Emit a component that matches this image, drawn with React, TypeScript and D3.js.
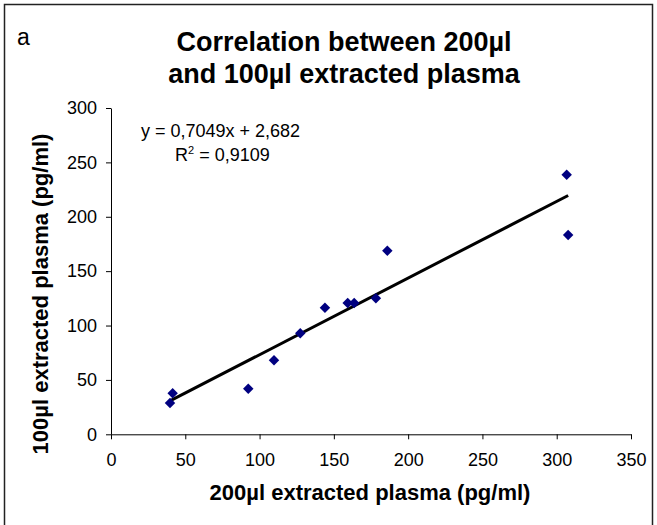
import React, { useEffect, useRef } from "react";
import * as d3 from "d3";

const xValues = [39.7, 41.5, 92.4, 109.7, 127.4, 144, 159.3, 163.7, 178.3, 186, 306.7, 307.7];
const yValues = [28.8, 37.7, 41.9, 68, 92.8, 116.4, 120.7, 120.7, 125, 168.8, 238.6, 183.2];
const xTicks = [0, 50, 100, 150, 200, 250, 300, 350];
const yTicks = [0, 50, 100, 150, 200, 250, 300];
const slope = 0.7049;
const intercept = 2.682;
const titleLines = ["Correlation between 200µl", "and 100µl extracted plasma"];
const xTitle = "200µl extracted plasma (pg/ml)";
const yTitle = "100µl extracted plasma (pg/ml)";

export default function App() {
  const ref = useRef<SVGSVGElement>(null);
  useEffect(() => {
    const svg = d3.select(ref.current);
    svg.selectAll("*").remove();
    const font = "'Liberation Sans', Arial, sans-serif";
    const x = d3.scaleLinear().domain([0, 350]).range([111, 631]);
    const y = d3.scaleLinear().domain([0, 300]).range([434.3, 108]);

    svg.append("path")
      .attr("d", "M4.5,530 V4.5 H652.5 V530")
      .attr("fill", "none")
      .attr("stroke", "#222")
      .attr("stroke-width", 1.5);

    svg.append("text").attr("x", 17).attr("y", 45).attr("font-family", font)
      .attr("font-size", 23).text("a");

    titleLines.forEach((t, i) => {
      svg.append("text").attr("x", 344).attr("y", 51 + i * 32).attr("text-anchor", "middle")
        .attr("font-family", font).attr("font-weight", "bold").attr("font-size", 27).text(t);
    });

    const xAxis = svg.append("g").attr("transform", `translate(0,${y(0)})`)
      .call(d3.axisBottom(x).tickValues(xTicks).tickSize(5).tickPadding(14).tickSizeOuter(0));
    const yAxis = svg.append("g").attr("transform", `translate(${x(0)},0)`)
      .call(d3.axisLeft(y).tickValues(yTicks).tickSize(5).tickPadding(9).tickSizeOuter(0));
    [xAxis, yAxis].forEach((g) => {
      g.selectAll("text").attr("font-family", font).attr("font-size", 18).attr("fill", "#000");
      g.selectAll("line").attr("stroke", "#000");
      g.select(".domain").attr("stroke", "#000");
    });

    const xmin = d3.min(xValues)!;
    const xmax = d3.max(xValues)!;
    svg.append("line")
      .attr("x1", x(xmin)).attr("y1", y(slope * xmin + intercept))
      .attr("x2", x(xmax)).attr("y2", y(slope * xmax + intercept))
      .attr("stroke", "#000").attr("stroke-width", 3);

    const sym = d3.symbol().type(d3.symbolDiamond2).size(70);
    svg.append("g").selectAll("path").data(xValues.map((v, i) => [v, yValues[i]]))
      .join("path")
      .attr("d", sym)
      .attr("transform", (d) => `translate(${x(d[0])},${y(d[1])})`)
      .attr("fill", "#000080");

    svg.append("text").attr("x", 141).attr("y", 137).attr("font-family", font).attr("font-size", 18)
      .text("y = 0,7049x + 2,682");
    const r = svg.append("text").attr("x", 175).attr("y", 161).attr("font-family", font).attr("font-size", 18);
    r.append("tspan").text("R");
    r.append("tspan").attr("font-size", 11).attr("dy", -7).text("2");
    r.append("tspan").attr("dy", 7).text(" = 0,9109");

    svg.append("text").attr("x", 370).attr("y", 500).attr("text-anchor", "middle")
      .attr("font-family", font).attr("font-weight", "bold").attr("font-size", 22).text(xTitle);
    svg.append("text").attr("transform", "translate(48,294) rotate(-90)").attr("text-anchor", "middle")
      .attr("font-family", font).attr("font-weight", "bold").attr("font-size", 22).text(yTitle);
  }, []);
  return (
    <svg ref={ref} width={657} height={525}
      style={{ position: "absolute", left: 0, top: 0, background: "#fff" }} />
  );
}
